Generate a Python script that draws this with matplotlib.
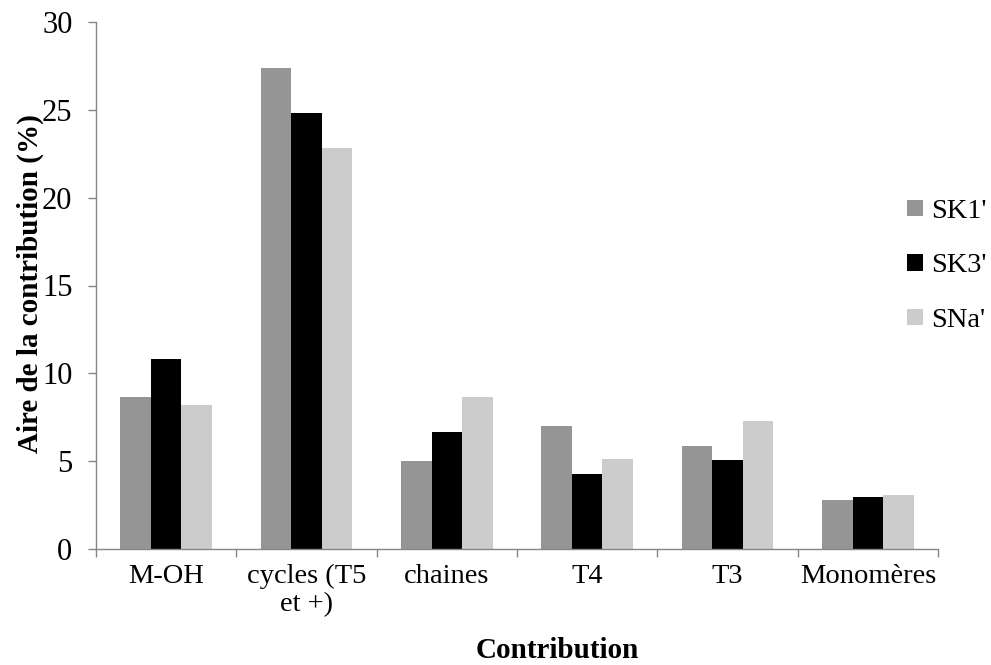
import matplotlib
matplotlib.use("Agg")
import matplotlib.pyplot as plt
import numpy as np

categories = ["M-OH", "cycles (T5\net +)", "chaines", "T4", "T3", "Monomères"]
series_names = ["SK1'", "SK3'", "SNa'"]
sk1 = [8.65, 27.4, 5.0, 7.0, 5.85, 2.8]
sk3 = [10.8, 24.8, 6.65, 4.25, 5.05, 2.95]
sna = [8.2, 22.8, 8.65, 5.15, 7.3, 3.05]
colors = ["#959595", "#000000", "#cccccc"]
yticks = [0, 5, 10, 15, 20, 25, 30]

plt.rcParams['font.family'] = ['Liberation Serif', 'DejaVu Serif']

fig = plt.figure(figsize=(9.91, 6.65), dpi=100)
ax = fig.add_axes([96/991, 1-549/665, (938-96)/991, (549-22)/665])

x = np.arange(len(categories))
w = 0.218
for i, (vals, name, c) in enumerate(zip([sk1, sk3, sna], series_names, colors)):
    ax.bar(x + (i-1)*w, vals, w, color=c, label=name, zorder=2)

ax.set_xlim(-0.5, len(categories)-0.5)
ax.set_ylim(0, 30)
ax.set_yticks(yticks)
ax.set_yticklabels([str(v) for v in yticks], fontsize=22)
ax.set_xticks(x)
ax.set_xticklabels(categories, fontsize=20.5, linespacing=1.2)
ax.set_xticks(np.arange(-0.5, len(categories)), minor=True)
ax.tick_params(axis='x', which='major', length=0, pad=10.5)
ax.tick_params(axis='x', which='minor', length=6, width=1, color='#868686', direction='out')
ax.tick_params(axis='y', length=6, width=1, color='#868686', direction='out', pad=11)

for s in ['top', 'right']:
    ax.spines[s].set_visible(False)
for s in ['left', 'bottom']:
    ax.spines[s].set_color('#868686')
    ax.spines[s].set_linewidth(1)

ax.set_ylabel("Aire de la contribution (%)", fontsize=21, fontweight='bold', va='center')
ax.yaxis.set_label_coords((30-96)/842, (549-284)/527)
fig.text(557/991, 1-650/665, "Contribution", fontsize=21, fontweight='bold',
         ha='center', va='center')

leg = fig.legend(loc='center left', bbox_to_anchor=(907/991, 1-266/665), frameon=False,
                 fontsize=20.5, handlelength=0.56, handleheight=0.5, handletextpad=0.3,
                 labelspacing=1.04, borderaxespad=0, borderpad=0)

fig.savefig("out.png", dpi=100)
